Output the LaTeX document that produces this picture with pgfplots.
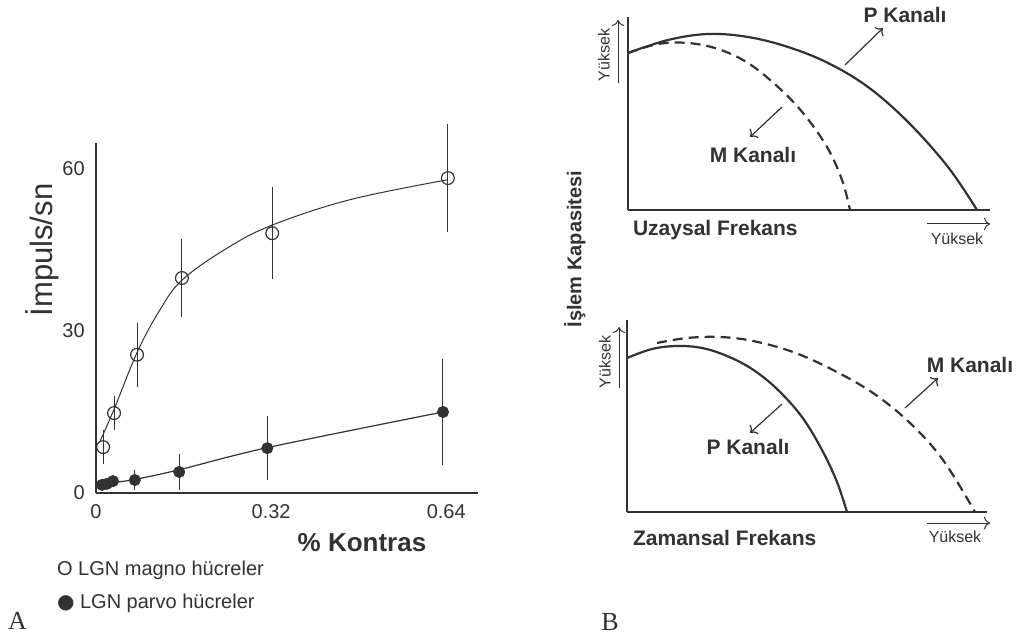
\documentclass[border=0pt]{standalone}
\usepackage{fontspec}
\setmainfont{Liberation Sans}
\newfontfamily\seriffont{Liberation Serif}
\newfontfamily\dejavu{DejaVu Sans}
\usepackage{pgfplots}
\pgfplotsset{compat=1.18}
\usetikzlibrary{arrows.meta}
\definecolor{ink}{RGB}{50,50,50}

\pgfplotsset{
  panelB/.style={
    anchor=south west, scale only axis, clip=false,
    axis lines=left, axis line style={-, draw=ink, line width=0.9pt},
    ticks=none, xmin=0, ymin=0},
  solidcurve/.style={ink, line width=1.1pt, smooth, tension=0.6},
  dashcurve/.style={ink, line width=1.1pt, smooth, tension=0.6, dash pattern=on 5pt off 3pt},
}

\begin{document}
\begin{tikzpicture}[every node/.style={text=ink}]
\useasboundingbox (0,0) rectangle (508pt,318.5pt);

% ---- A: response vs contrast
\begin{axis}[
    at={(48pt,72pt)}, anchor=south west, scale only axis,
    width=191pt, height=175pt,
    xmin=0, xmax=0.698, ymin=0, ymax=64.8,
    axis lines=left, axis line style={-, draw=ink, line width=0.6pt},
    xtick={0,0.32,0.64}, xticklabels={0,0.32,0.64},
    ytick={0,30,60}, yticklabels={0,30,60},
    tick style={draw=none},
    tick label style={font=\fontsize{10}{12}\selectfont, text=ink},
    clip=false,
]
% magno fitted curve
\addplot[ink, line width=0.5pt, smooth, tension=0.6] coordinates {
    (0.007,9.5) (0.033,15.5) (0.075,26) (0.115,33.6) (0.157,39.4) (0.239,45.3)
    (0.322,49.6) (0.464,54.3) (0.643,58)
};
% parvo line
\addplot[ink, line width=0.6pt, smooth, tension=0.5] coordinates {
    (0.005,1.2) (0.031,1.9) (0.071,2.5) (0.152,4.3) (0.313,8.4) (0.634,15)
};
% magno cells
\addplot[ink, only marks, mark=o, mark size=3.2pt, mark options={line width=0.6pt},
    error bars/.cd, y dir=both, y explicit, error mark=none,
    error bar style={ink, line width=0.5pt}]
coordinates {
    (0.013,8.5) +- (0,3.1)
    (0.033,14.8) +- (0,3.2)
    (0.075,25.6) +- (0,5.9)
    (0.157,39.8) +- (0,7.3)
    (0.322,48.1) +- (0,8.5)
    (0.643,58.3) +- (0,10)
};
% parvo cells
\addplot[ink, only marks, mark=*, mark size=2.8pt,
    error bars/.cd, y dir=both, y explicit, error mark=none,
    error bar style={ink, line width=0.5pt}]
coordinates {
    (0.011,1.5) +- (0,0.5)
    (0.02,1.7) +- (0,0.5)
    (0.031,2.2) +- (0,0.8)
    (0.071,2.4) +- (0,1.9)
    (0.152,3.9) +- (0,3.4)
    (0.313,8.3) +- (0,5.9)
    (0.634,15) +- (0,9.9)
};
\end{axis}

\node[rotate=90, font=\fontsize{15.5}{18}\selectfont] at (21pt,193.5pt) {İmpuls/sn};
\node[font=\fontsize{13}{15}\selectfont\bfseries] at (181pt,47pt) {\% Kontras};
\node[anchor=west, font=\fontsize{10}{12}\selectfont] at (25pt,33.5pt) {O LGN magno hücreler};
\node[anchor=west, font=\fontsize{10}{12}\selectfont] at (25pt,17pt) {{\dejavu ●} LGN parvo hücreler};
\node[font=\fontsize{13}{15}\selectfont\seriffont] at (8.75pt,8pt) {A};
\node[font=\fontsize{13}{15}\selectfont\seriffont] at (305pt,7.5pt) {B};
\node[rotate=90, font=\fontsize{10}{12}\selectfont\bfseries] at (287.5pt,194pt) {İşlem Kapasitesi};

% ---- B top: spatial frequency
\begin{axis}[panelB, at={(314pt,213.5pt)}, width=181pt, height=96.5pt,
    xmax=362, ymax=193]
\addplot[solidcurve] coordinates {
    (0,157) (40,170) (80,176) (120,173) (160,163) (200,147)
    (240,123) (280,88) (320,43) (349,0)
};
\addplot[dashcurve] coordinates {
    (0,157) (30,166) (60,167) (90,161) (120,147) (150,123)
    (175,97) (199,63) (214,30) (222,0)
};
\end{axis}

\node[anchor=west, font=\fontsize{10.5}{12}\selectfont\bfseries] at (313pt,203.5pt) {Uzaysal Frekans};
\node[font=\fontsize{8}{10}\selectfont] at (478.5pt,199pt) {Yüksek};
\draw[ink, line width=0.5pt, -{To[length=3pt]}] (463.5pt,206.5pt) -- (495pt,206.5pt);
\draw[ink, line width=0.5pt, -{To[length=3pt]}] (309pt,277pt) -- (309pt,308.5pt);
\node[rotate=90, font=\fontsize{8}{10}\selectfont] at (302pt,291pt) {Yüksek};
\node[font=\fontsize{10.5}{12}\selectfont\bfseries] at (452.5pt,311pt) {P Kanalı};
\draw[ink, line width=0.6pt, -{To[length=3pt]}] (422.5pt,286pt) -- (441.5pt,304.5pt);
\node[font=\fontsize{10.5}{12}\selectfont\bfseries] at (376.5pt,241pt) {M Kanalı};
\draw[ink, line width=0.6pt, -{To[length=3pt]}] (391pt,265pt) -- (375pt,250pt);

% ---- B bottom: temporal frequency
\begin{axis}[panelB, at={(313.5pt,62.5pt)}, width=180pt, height=96pt,
    xmax=360, ymax=192]
\addplot[solidcurve] coordinates {
    (0,154) (25,163) (50,166) (75,164) (100,156) (125,143)
    (150,123) (175,95) (195,62) (210,30) (220,0)
};
\addplot[dashcurve] coordinates {
    (30,169) (60,174) (93,175) (126,171) (166,160) (206,142)
    (246,119) (283,89) (316,52) (348,0)
};
\end{axis}

\node[anchor=west, font=\fontsize{10.5}{12}\selectfont\bfseries] at (313pt,49.5pt) {Zamansal Frekans};
\node[font=\fontsize{8}{10}\selectfont] at (477.5pt,50pt) {Yüksek};
\draw[ink, line width=0.5pt, -{To[length=3pt]}] (463.5pt,57pt) -- (495pt,57pt);
\draw[ink, line width=0.5pt, -{To[length=3pt]}] (309.5pt,124.5pt) -- (309.5pt,155pt);
\node[rotate=90, font=\fontsize{8}{10}\selectfont] at (302.5pt,137.5pt) {Yüksek};
\node[font=\fontsize{10.5}{12}\selectfont\bfseries] at (485pt,136pt) {M Kanalı};
\draw[ink, line width=0.6pt, -{To[length=3pt]}] (452.5pt,114.5pt) -- (469pt,129.5pt);
\node[font=\fontsize{10.5}{12}\selectfont\bfseries] at (374pt,95pt) {P Kanalı};
\draw[ink, line width=0.6pt, -{To[length=3pt]}] (391pt,116.5pt) -- (375pt,102pt);
\end{tikzpicture}
\end{document}
